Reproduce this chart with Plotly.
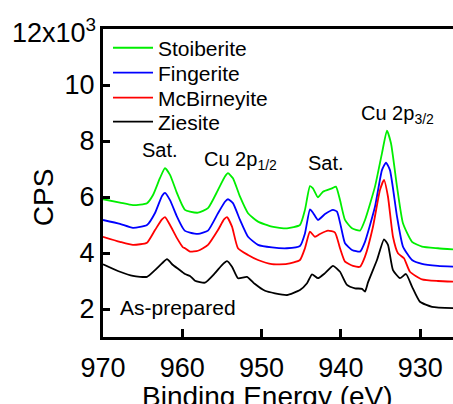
import plotly.graph_objects as go

# Binding energy (eV) and counts per second for each sample
e_stoib = [970.0, 967.86, 966.22, 964.45, 963.69, 962.81, 962.18, 961.55, 960.67, 959.91, 959.66, 959.03,
           958.02, 956.76, 955.50, 954.62, 954.24, 953.61, 952.72, 951.71, 950.45, 948.69, 946.80, 945.16,
           944.53, 943.90, 943.52, 942.89, 942.26, 941.12, 940.62, 940.11, 939.48, 938.60, 937.59, 936.96,
           935.70, 934.82, 934.19, 933.68, 932.92, 932.17, 931.03, 929.77, 927.76, 925.86]
cps_stoib = [5920, 5800, 5710, 5780, 6070, 6680, 7030, 6790, 6140, 5650, 5540, 5480,
             5440, 5600, 6250, 6730, 6850, 6670, 6010, 5420, 5120, 4940, 4880, 5000,
             5540, 6390, 6310, 5990, 6190, 6310, 6370, 5890, 5180, 4880, 4800, 5180,
             6370, 7560, 8370, 7920, 6370, 5060, 4400, 4230, 4170, 4130]

e_finger = [970.0, 967.86, 966.22, 964.45, 963.44, 962.56, 962.18, 961.55, 960.67, 959.91, 959.66, 959.03,
            958.02, 956.76, 955.50, 954.62, 954.24, 953.61, 952.72, 951.71, 950.45, 948.69, 946.80, 945.16,
            944.53, 943.90, 943.52, 942.89, 942.00, 940.99, 940.49, 939.99, 939.48, 938.60, 937.59, 936.96,
            935.70, 934.82, 934.31, 933.81, 932.92, 932.17, 931.03, 929.77, 927.76, 925.86]
cps_finger = [5180, 5040, 4900, 5000, 5430, 6040, 6150, 5890, 5300, 4880, 4790, 4730,
              4680, 4800, 5420, 5830, 5920, 5780, 5180, 4580, 4290, 4200, 4170, 4250,
              4700, 5560, 5440, 5180, 5390, 5540, 5480, 4940, 4350, 4110, 4050, 4400,
              5650, 6960, 7230, 6960, 5300, 4230, 3750, 3610, 3540, 3510]

e_mcbir = [970.0, 967.86, 966.22, 964.45, 963.44, 962.56, 962.18, 961.55, 960.67, 959.91, 959.66, 959.03,
           958.02, 956.76, 955.50, 954.74, 954.36, 953.73, 952.98, 951.71, 950.45, 948.69, 946.80, 945.16,
           944.53, 943.90, 943.27, 942.64, 941.63, 940.74, 940.11, 939.48, 938.47, 937.59, 936.96, 935.95,
           935.07, 934.56, 934.06, 933.43, 932.80, 932.04, 931.29, 929.77, 927.76, 925.86]
cps_mcbir = [4580, 4400, 4290, 4370, 4820, 5200, 5280, 5000, 4530, 4200, 4170, 4050,
             4080, 4290, 4820, 5200, 5280, 4940, 4170, 3930, 3750, 3600, 3610, 3750,
             4170, 4760, 4580, 4680, 4800, 4730, 4170, 3690, 3540, 3510, 3870, 4940,
             6250, 6610, 6010, 4580, 3990, 3810, 3330, 3060, 3000, 2980]

e_zies = [970.0, 967.86, 966.22, 964.45, 963.44, 962.56, 961.93, 961.17, 960.04, 959.66, 959.03, 958.40,
          957.14, 955.88, 955.00, 954.36, 953.73, 952.98, 951.84, 950.83, 949.57, 948.31, 946.80, 945.16,
          944.27, 943.64, 942.89, 942.00, 940.99, 940.11, 939.23, 938.22, 937.34, 936.96, 936.58, 935.45,
          934.56, 934.06, 933.43, 932.55, 931.79, 931.03, 930.03, 928.51, 925.86]
cps_zies = [3600, 3330, 3180, 3150, 3390, 3630, 3780, 3570, 3330, 3250, 3180, 3010,
            2940, 3280, 3570, 3710, 3510, 3100, 3150, 2890, 2650, 2560, 2500, 2680,
            2920, 3240, 3100, 3280, 3540, 3330, 2860, 2740, 2720, 2620, 2950, 3750,
            4490, 4290, 3390, 3100, 3250, 2800, 2260, 2080, 2030]

series_names = ["Stoiberite", "Fingerite", "McBirneyite", "Ziesite"]
series_colors = ["#00ee00", "#0000ff", "#ff0000", "#000000"]

y_tickvals = [2000, 4000, 6000, 8000, 10000]
y_ticktext = ["2", "4", "6", "8", "10"]
x_tickvals = [970, 960, 950, 940, 930]

FONT = "Arial, Liberation Sans, sans-serif"

legend_ids = ["legend", "legend2", "legend3", "legend4"]
legend_y = [0.938, 0.857, 0.776, 0.698]

fig = go.Figure()
for name, col, ex, cy, lid in zip(series_names, series_colors,
                                  [e_stoib, e_finger, e_mcbir, e_zies],
                                  [cps_stoib, cps_finger, cps_mcbir, cps_zies], legend_ids):
    fig.add_trace(go.Scatter(x=ex, y=cy, mode="lines", name=name, legend=lid,
                             line=dict(color=col, width=1.8, shape="spline", smoothing=0.5)))

legend_common = dict(x=0.0143, xanchor="left", yanchor="middle", bgcolor="rgba(0,0,0,0)",
                     font=dict(size=21, family=FONT, color="black"), itemwidth=40)
layout_legends = {lid: dict(y=ly, **legend_common) for lid, ly in zip(legend_ids, legend_y)}

fig.update_layout(
    width=453, height=404,
    margin=dict(l=103, r=0, t=29, b=67),
    paper_bgcolor="white", plot_bgcolor="white",
    font=dict(family=FONT, color="black"),
    showlegend=True,
    **layout_legends,
)
fig.update_xaxes(range=[970, 925.86], tickvals=x_tickvals, ticks="inside", ticklen=8, tickwidth=2.5,
                 tickcolor="black", showline=True, linewidth=3, linecolor="black", mirror=True,
                 showgrid=False, zeroline=False, ticklabelstandoff=5,
                 tickfont=dict(size=27, family=FONT))
fig.update_yaxes(range=[1000, 12000], tickvals=y_tickvals, ticktext=y_ticktext, ticks="inside",
                 ticklen=7, tickwidth=2.5, tickcolor="black", showline=True, linewidth=3,
                 linecolor="black", showgrid=False, zeroline=False, tickfont=dict(size=27, family=FONT))

ann = [
    dict(x=962.8, y=7680, text="Sat."),
    dict(x=952.6, y=7320, text="Cu 2p<sub>1/2</sub>"),
    dict(x=941.9, y=7210, text="Sat."),
    dict(x=932.8, y=8930, text="Cu 2p<sub>3/2</sub>"),
]
for a in ann:
    fig.add_annotation(x=a["x"], y=a["y"], xref="x", yref="y", text=a["text"], showarrow=False,
                       font=dict(size=20, family=FONT, color="black"))
fig.add_annotation(x=968.1, y=2040, xref="x", yref="y", text="As-prepared", showarrow=False,
                   xanchor="left", font=dict(size=21, family=FONT, color="black"))
fig.add_annotation(x=0, y=12000, xref="paper", yref="y", text="12x10<sup>3</sup>", showarrow=False,
                   xanchor="right", yanchor="middle", xshift=-5, yshift=-2,
                   font=dict(size=27, family=FONT, color="black"))
fig.add_annotation(x=0.47, y=-0.135, xref="paper", yref="paper", text="Binding Energy (eV)",
                   showarrow=False, yanchor="top", font=dict(size=28, family=FONT, color="black"))
fig.add_annotation(x=-0.171, y=0.4545, xref="paper", yref="paper", text="CPS", textangle=-90,
                   showarrow=False, xanchor="center", yanchor="middle",
                   font=dict(size=28, family=FONT, color="black"))

fig.write_html("out.html")
